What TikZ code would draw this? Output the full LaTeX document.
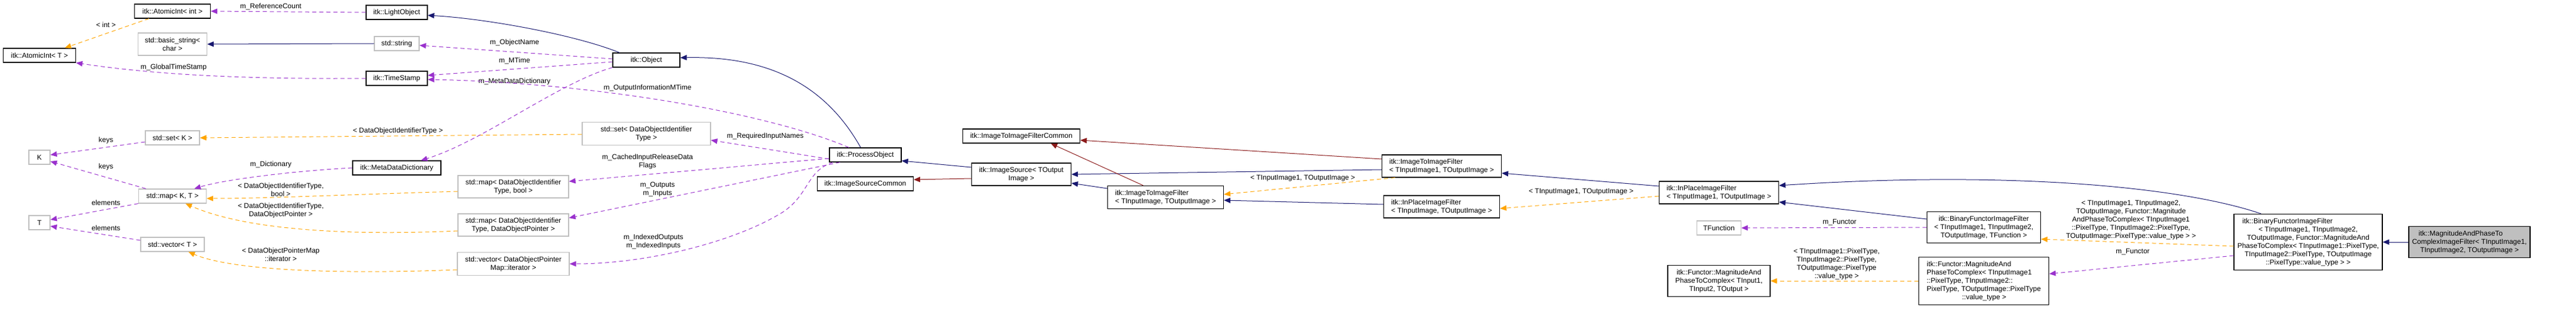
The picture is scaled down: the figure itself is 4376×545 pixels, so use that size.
\documentclass[tikz,border=0pt]{standalone}
\usepackage{fontspec}
\setmainfont{Liberation Sans}
\usetikzlibrary{arrows.meta}
\definecolor{navy}{HTML}{191970}
\definecolor{dred}{HTML}{8B1A1A}
\definecolor{orng}{HTML}{FFA500}
\definecolor{purp}{HTML}{9A32CD}
\definecolor{gbox}{HTML}{BFBFBF}
\begin{document}
\begin{tikzpicture}[x=1pt,y=-1pt,
  every node/.style={font=\fontsize{12}{14}\selectfont, inner sep=0pt},
  box/.style={draw=black, line width=1.2pt, fill=white, align=center},
  gb/.style={draw=gbox, line width=1.2pt, fill=white, align=center},
  lbl/.style={align=center},
  inh/.style={-{Triangle[length=11pt,width=9pt,fill=navy]}, draw=navy, line width=1pt},
  red/.style={-{Triangle[length=11pt,width=9pt,fill=dred]}, draw=dred, line width=1pt},
  tmpl/.style={-{Triangle[length=11pt,width=9pt,fill=orng]}, draw=orng, line width=1pt, dash pattern=on 7pt off 5pt},
  use/.style={-{Triangle[length=11pt,width=9pt,fill=purp]}, draw=purp, line width=1pt, dash pattern=on 7pt off 5pt},
]
\useasboundingbox (0,0) rectangle (4376,545);
% nodes
\node[box, minimum width=129, minimum height=24] (aii) at (293,19) {itk::AtomicInt< int >};
\node[gb, minimum width=117, minimum height=38] (bstr) at (293,75) {std::basic\_string<\\char >};
\node[box, minimum width=123, minimum height=24] (ait) at (67,94) {itk::AtomicInt< T >};
\node[gb, minimum width=92, minimum height=24] (sk) at (293,234) {std::set< K >};
\node[gb, minimum width=36, minimum height=24] (k) at (67,267) {K};
\node[gb, minimum width=115, minimum height=24] (mkt) at (293,333) {std::map< K, T >};
\node[gb, minimum width=36, minimum height=24] (t) at (67,378) {T};
\node[gb, minimum width=108, minimum height=24] (vt) at (293,415) {std::vector< T >};
\node[box, minimum width=104, minimum height=24] (lo) at (674,21) {itk::LightObject};
\node[gb, minimum width=76, minimum height=24] (str) at (674,74) {std::string};
\node[box, minimum width=104, minimum height=24] (ts) at (674,133) {itk::TimeStamp};
\node[box, minimum width=150, minimum height=24] (mdd) at (674,285) {itk::MetaDataDictionary};
\node[gb, minimum width=218, minimum height=39] (sdo) at (1098,227) {std::set< DataObjectIdentifier\\Type >};
\node[gb, minimum width=188, minimum height=38] (mdb) at (872,317) {std::map< DataObjectIdentifier\\Type, bool >};
\node[gb, minimum width=188, minimum height=38] (mdp) at (872,382) {std::map< DataObjectIdentifier\\Type, DataObjectPointer >};
\node[gb, minimum width=190, minimum height=39] (vdp) at (872,448) {std::vector< DataObjectPointer\\Map::iterator >};
\node[box, minimum width=114, minimum height=24] (obj) at (1098,102) {itk::Object};
\node[box, minimum width=122, minimum height=24] (po) at (1470,263) {itk::ProcessObject};
\node[box, minimum width=163, minimum height=24] (isc) at (1470,312) {itk::ImageSourceCommon};
\node[box, minimum width=199, minimum height=24] (itifc) at (1735,231) {itk::ImageToImageFilterCommon};
\node[box, minimum width=169, minimum height=38] (isrc) at (1735,296) {itk::ImageSource< TOutput\\Image >};
\node[box, minimum width=197, minimum height=39, align=left] (itif) at (1980,335) {itk::ImageToImageFilter\\< TInputImage, TOutputImage >};
\node[box, minimum width=203, minimum height=38, align=left] (itif1) at (2449,282) {itk::ImageToImageFilter\\< TInputImage1, TOutputImage >};
\node[box, minimum width=197, minimum height=38, align=left] (ipf) at (2449,351) {itk::InPlaceImageFilter\\< TInputImage, TOutputImage >};
\node[box, minimum width=203, minimum height=38, align=left] (ipf1) at (2920,327) {itk::InPlaceImageFilter\\< TInputImage1, TOutputImage >};
\node[gb, minimum width=75, minimum height=24] (tf) at (2920,387) {TFunction};
\node[box, minimum width=174, minimum height=53] (fg) at (2920,477) {itk::Functor::MagnitudeAnd\\PhaseToComplex< TInput1,\\TInput2, TOutput >};
\node[box, minimum width=193, minimum height=53] (bf) at (3370,386) {itk::BinaryFunctorImageFilter\\< TInputImage1, TInputImage2,\\TOutputImage, TFunction >};
\node[box, minimum width=221, minimum height=81, align=left] (fs) at (3370,477) {itk::Functor::MagnitudeAnd\\PhaseToComplex< TInputImage1\\::PixelType, TInputImage2::\\PixelType, TOutputImage::PixelType\\\hspace*{60pt}::value\_type >};
\node[box, minimum width=252, minimum height=95, align=center] (bfs) at (3921,411) {itk::BinaryFunctorImageFilter\hspace*{70pt}\\< TInputImage1, TInputImage2,\hspace*{50pt}\\TOutputImage, Functor::MagnitudeAnd\\PhaseToComplex< TInputImage1::PixelType,\\TInputImage2::PixelType, TOutputImage\\::PixelType::value\_type > >};
\node[draw=black, line width=1.2pt, fill=gbox, align=center, minimum width=206, minimum height=53] (main) at (4195,411) {itk::MagnitudeAndPhaseTo\hspace*{30pt}\\ComplexImageFilter< TInputImage1,\\TInputImage2, TOutputImage >};
% labels
\node[lbl] (l1) at (180,42) {< int >};
\node[lbl] (l2) at (460,11) {m\_ReferenceCount};
\node[lbl] (l3) at (295,114) {m\_GlobalTimeStamp};
\node[lbl] (l4) at (180,238) {keys};
\node[lbl] (l5) at (180,283) {keys};
\node[lbl] (l6) at (460,279) {m\_Dictionary};
\node[lbl] (l7) at (477,322) {< DataObjectIdentifierType,\\bool >};
\node[lbl] (l8) at (477,357) {< DataObjectIdentifierType,\\DataObjectPointer >};
\node[lbl] (l9) at (180,344) {elements};
\node[lbl] (l10) at (180,387) {elements};
\node[lbl] (l11) at (477,432) {< DataObjectPointerMap\\::iterator >};
\node[lbl] (l12) at (874,72) {m\_ObjectName};
\node[lbl] (l13) at (874,103) {m\_MTime};
\node[lbl] (l14) at (874,138) {m\_MetaDataDictionary};
\node[lbl] (l15) at (676,222) {< DataObjectIdentifierType >};
\node[lbl] (l16) at (1100,149) {m\_OutputInformationMTime};
\node[lbl] (l17) at (1100,274) {m\_CachedInputReleaseData\\Flags};
\node[lbl] (l18) at (1117,322) {m\_Outputs\\m\_Inputs};
\node[lbl] (l19) at (1110,410) {m\_IndexedOutputs\\m\_IndexedInputs};
\node[lbl] (l20) at (1300,231) {m\_RequiredInputNames};
\node[lbl] (l21) at (2213,303) {< TInputImage1, TOutputImage >};
\node[lbl] (l22) at (2686,326) {< TInputImage1, TOutputImage >};
\node[lbl] (l23) at (3125,378) {m\_Functor};
\node[lbl] (l24) at (3120,448) {< TInputImage1::PixelType,\\TInputImage2::PixelType,\\TOutputImage::PixelType\\::value\_type >};
\node[lbl] (l25) at (3620,374) {< TInputImage1, TInputImage2,\\TOutputImage, Functor::Magnitude\\AndPhaseToComplex< TInputImage1\\::PixelType, TInputImage2::PixelType,\\TOutputImage::PixelType::value\_type > >};
\node[lbl] (l26) at (3623,428) {m\_Functor};
% inheritance
\draw[inh] (str.west) -- (bstr.east);
\draw[inh] ([xshift=12pt]obj.north west) .. controls (980,60) and (830,32) .. ([yshift=-5pt]lo.east);
\draw[inh] ([xshift=-8pt]po.north) .. controls (1400,140) and (1300,95) .. ([yshift=4pt]obj.east);
\draw[inh] ([yshift=12pt]isrc.west) -- ([yshift=-10pt]po.east);
\draw[inh] ([yshift=15pt]itif.west) -- ([yshift=-15pt]isrc.east);
\draw[inh] ([yshift=-6pt]itif1.west) -- (isrc.east);
\draw[inh] ([yshift=4pt]ipf.west) -- ([yshift=-5pt]itif.east);
\draw[inh] ([yshift=11pt]ipf1.west) -- ([yshift=-12pt]itif1.east);
\draw[inh] ([yshift=14pt]bf.west) -- ([yshift=-16pt]ipf1.east);
\draw[inh] ([xshift=-80pt]bfs.north) .. controls (3700,315) and (3400,290) .. ([yshift=12pt]ipf1.east);
\draw[inh] (main.west) -- (bfs.east);
% red
\draw[red] ([yshift=-7pt]isrc.west) -- ([yshift=7pt]isc.east);
\draw[red] ([xshift=-38pt]itif.north) -- ([xshift=50pt]itifc.south);
\draw[red] ([yshift=12pt]itif1.west) -- ([yshift=-7pt]itifc.east);
% templates
\draw[tmpl] ([xshift=-40pt]aii.south) -- ([xshift=43pt]ait.north);
\draw[tmpl] ([yshift=-1pt]sdo.west) -- (sk.east);
\draw[tmpl] ([yshift=-8pt]mdb.west) .. controls (600,330) and (450,337) .. ([yshift=-4pt]mkt.east);
\draw[tmpl] ([yshift=-10pt]mdp.west) .. controls (600,400) and (420,392) .. ([xshift=22pt]mkt.south);
\draw[tmpl] ([yshift=-10pt]vdp.west) .. controls (600,465) and (400,462) .. ([xshift=27pt]vt.south);
\draw[tmpl] ([xshift=-79pt]itif1.south) -- ([yshift=5pt]itif.east);
\draw[tmpl] ([yshift=-6pt]ipf1.west) -- ([yshift=-3pt]ipf.east);
\draw[tmpl] ([yshift=-7pt]bfs.west) -- ([yshift=-20pt]bf.east);
\draw[tmpl] (fs.west) -- (fg.east);
% usage
\draw[use] (lo.west) -- (aii.east);
\draw[use] (ts.west) .. controls (400,135) and (250,125) .. (ait.south east);
\draw[use] ([yshift=2pt]obj.west) -- ([yshift=-3pt]str.east);
\draw[use] ([yshift=-3pt]obj.west) -- ([yshift=5pt]ts.east);
\draw[use] (obj.south west) .. controls (950,140) and (820,240) .. ([xshift=41pt]mdd.north);
\draw[use] ([xshift=-28pt]po.north) .. controls (1300,190) and (1000,140) .. ([yshift=-2pt]ts.east);
\draw[use] ([yshift=-7pt]po.west) -- ([yshift=-11pt]sdo.east);
\draw[use] ([yshift=-6pt]po.west) -- ([yshift=9pt]mdb.east);
\draw[use] ([xshift=-43pt]po.south) -- ([yshift=12pt]mdp.east);
\draw[use] ([xshift=-55pt]po.south) .. controls (1370,290) and (1375,330) .. (1330,360) .. controls (1250,410) and (1100,448) .. (vdp.east);
\draw[use] (mdd.west) .. controls (500,290) and (380,305) .. ([xshift=37pt]mkt.north);
\draw[use] ([yshift=-7pt]sk.west) -- ([yshift=4pt]k.east);
\draw[use] ([xshift=-45pt]mkt.north) -- ([yshift=-7pt]k.east);
\draw[use] (mkt.south west) -- ([yshift=5pt]t.east);
\draw[use] ([yshift=7pt]vt.west) -- ([yshift=-6pt]t.east);
\draw[use] (bf.west) -- (tf.east);
\draw[use] ([yshift=-23pt]bfs.west) -- ([yshift=12pt]fs.east);
\end{tikzpicture}
\end{document}
